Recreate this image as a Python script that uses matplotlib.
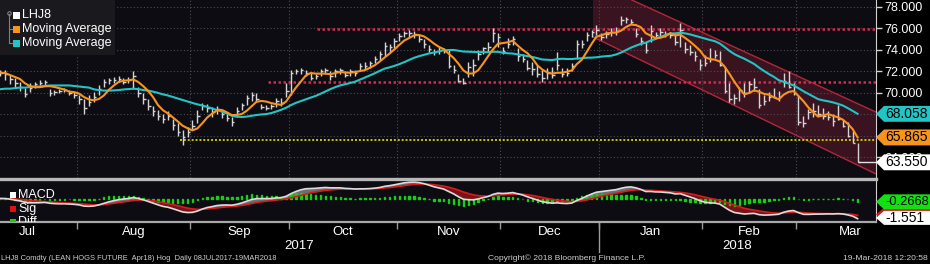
import numpy as np
import pandas as pd
import matplotlib
matplotlib.use("Agg")
import matplotlib.pyplot as plt
from matplotlib.patches import Polygon, Rectangle
from matplotlib.transforms import blended_transform_factory

plt.rcParams['font.family'] = ['Liberation Sans', 'DejaVu Sans']

# LHJ8 daily bars, 10 Jul 2017 .. 19 Mar 2018 (one row per month)
high = [72.1, 72.1, 71.7, 71.4, 71.0, 70.5, 70.9, 71.0, 71.2, 71.2, 70.4, 70.3, 70.4, 70.5, 70.3, 70.1,
        69.8, 69.4, 69.8, 70.1, 70.7, 71.3, 71.4, 71.5, 71.6, 71.4, 71.5, 72.0, 70.6, 70.0, 69.4, 68.8, 68.4, 68.0, 68.3, 67.6, 67.2, 66.6, 66.8,
        67.5, 68.4, 69.1, 69.0, 68.7, 68.8, 68.4, 68.1, 67.8, 68.7, 69.1, 69.8, 70.1, 70.0, 69.0, 68.9, 69.0, 69.5, 69.5, 70.9,
        72.1, 72.2, 72.3, 72.1, 71.9, 71.8, 72.2, 72.3, 72.0, 72.2, 72.3, 72.0, 72.2, 72.1, 72.8, 72.9, 73.0, 73.4, 73.9, 74.7, 74.6, 75.1,
        75.6, 75.8, 75.9, 75.8, 75.4, 75.0, 74.5, 74.1, 74.3, 74.2, 74.0, 72.6, 71.8, 71.4, 72.9, 73.2, 74.0, 74.3, 74.7, 76.0, 75.6,
        74.3, 75.1, 75.3, 74.2, 73.6, 73.1, 72.9, 72.6, 72.1, 72.3, 72.4, 73.8, 72.3, 72.3, 72.8, 74.9, 74.9, 75.7, 75.9, 76.3,
        75.6, 75.8, 76.0, 76.1, 77.2, 77.1, 76.9, 76.0, 75.2, 74.7, 76.3, 75.7, 76.0, 75.8, 75.7, 75.6, 76.5, 74.7, 74.5, 73.9, 73.2,
        73.5, 74.2, 74.0, 73.9, 72.4, 70.9, 69.9, 70.6, 70.9, 71.1, 71.4, 70.4, 69.8, 70.1, 70.5, 70.2, 71.9, 72.0, 70.9,
        69.8, 67.9, 68.5, 69.1, 68.9, 68.6, 68.3, 68.0, 68.9, 67.5, 67.3, 66.5, 65.35]
low = [71.6, 71.2, 70.8, 70.5, 70.2, 69.6, 70.1, 70.5, 70.7, 70.7, 69.7, 69.8, 70.0, 70.1, 69.8, 69.5,
       69.0, 68.0, 68.8, 69.2, 69.8, 70.6, 70.8, 70.9, 71.0, 70.8, 70.9, 70.4, 69.6, 69.0, 68.4, 67.9, 67.5, 67.2, 67.5, 66.6, 66.0, 65.2, 65.9,
       66.6, 67.2, 68.4, 68.2, 67.8, 68.0, 67.7, 67.4, 66.9, 67.8, 68.4, 68.9, 69.3, 69.2, 68.5, 68.4, 68.5, 68.7, 68.8, 69.6,
       69.8, 71.8, 71.8, 71.6, 71.2, 71.3, 71.6, 71.8, 71.2, 71.5, 71.8, 71.5, 71.6, 71.6, 72.0, 72.2, 72.3, 72.8, 73.1, 73.4, 73.7, 74.2,
       74.8, 75.2, 75.2, 75.1, 74.7, 74.2, 73.8, 73.5, 73.6, 73.7, 72.3, 71.9, 71.0, 70.8, 71.5, 71.6, 73.1, 73.6, 73.8, 74.7, 74.3,
       73.6, 74.2, 74.5, 73.0, 72.9, 72.1, 71.7, 71.5, 71.0, 71.3, 71.4, 72.1, 71.5, 71.6, 72.0, 73.2, 74.2, 74.8, 75.2, 75.4,
       74.9, 75.1, 75.3, 75.4, 76.3, 76.5, 76.4, 75.2, 74.5, 73.7, 74.7, 75.1, 75.3, 75.2, 75.1, 74.5, 74.3, 73.7, 73.5, 73.0, 72.1,
       72.5, 72.9, 73.3, 72.5, 70.0, 69.2, 69.0, 69.3, 69.6, 70.0, 70.2, 68.6, 68.9, 69.3, 69.5, 69.3, 70.6, 70.5, 69.8,
       67.0, 66.8, 67.6, 67.8, 67.9, 67.6, 67.5, 66.9, 67.5, 66.8, 65.9, 65.3, 63.55]
close = [71.9, 71.8, 71.3, 70.9, 70.6, 69.9, 70.5, 70.8, 70.9, 71.0, 70.0, 70.1, 70.2, 70.3, 70.0, 69.8,
         69.4, 68.6, 69.2, 69.6, 70.4, 71.0, 71.2, 71.2, 71.3, 71.0, 71.2, 71.6, 70.0, 69.4, 68.8, 68.3, 67.9, 67.6, 67.9, 67.0, 66.4, 65.9, 66.4,
         66.9, 67.9, 68.8, 68.6, 68.2, 68.5, 68.0, 67.7, 67.3, 68.3, 68.9, 69.5, 69.8, 69.4, 68.7, 68.6, 68.8, 69.3, 69.1, 70.2,
         71.9, 72.0, 72.1, 71.9, 71.4, 71.6, 72.0, 72.1, 71.6, 72.0, 72.1, 71.7, 72.0, 71.9, 72.5, 72.5, 72.8, 73.2, 73.6, 74.4, 74.3, 74.8,
         75.3, 75.6, 75.6, 75.5, 75.0, 74.6, 74.1, 73.8, 74.0, 73.9, 72.5, 72.1, 71.1, 70.9, 72.4, 72.6, 73.6, 74.2, 74.3, 75.6, 75.2,
         73.9, 74.6, 75.0, 73.4, 73.2, 72.3, 72.2, 71.8, 71.4, 71.9, 71.7, 72.6, 71.8, 71.9, 72.5, 74.6, 74.6, 75.4, 75.7, 75.9,
         75.2, 75.5, 75.7, 75.8, 76.8, 76.9, 76.6, 75.5, 74.8, 74.0, 75.8, 75.4, 75.7, 75.5, 75.4, 74.7, 75.9, 74.1, 73.8, 73.4, 72.6,
         72.8, 73.2, 73.5, 72.6, 70.2, 69.4, 69.5, 70.3, 70.0, 70.8, 70.6, 68.9, 69.3, 69.6, 69.6, 69.6, 71.1, 70.6, 70.0,
         67.3, 67.2, 68.2, 68.3, 68.0, 67.9, 67.8, 67.4, 67.6, 66.9, 66.0, 65.3, 63.55]

# cyan average over the first bars, before 20 closes exist
slow_head = [70.35, 70.4, 70.4, 70.45, 70.5, 70.5, 70.55, 70.6, 70.6, 70.65,
             70.7, 70.7, 70.7, 70.7, 70.7, 70.65, 70.6, 70.55, 70.5]

month_names = ['Jul', 'Aug', 'Sep', 'Oct', 'Nov', 'Dec', 'Jan', 'Feb', 'Mar']
month_mid = [5.5, 27, 48.5, 69.5, 91, 111.5, 132, 152, 172.5]
month_edges = [15.5, 38.5, 58.5, 80.5, 101.5, 121.5, 142.5, 161.5]
years = ['2017', '2018']
year_mid = [60.7, 149.6]

# drawn studies
resist_lvls = [75.95, 71.0]
resist_from = [64.3, 54.3]
support_lvl = 65.6
support_from = 36.5
chan_upper = [(128.2, 78.65), (177.7, 68.23)]
chan_lower = [(120.3, 75.21), (177.7, 62.47)]

# last values shown on the right
last_px, last_fast, last_slow = 63.550, 65.865, 68.058
last_diff, last_sig, last_macd = -0.2668, -1.284, -1.551

BG = '#0c0c12'
ORANGE = '#f7941d'
CYAN = '#22c4c4'

n = len(close)
idx = np.arange(n)
s = pd.Series(close)
fast = s.rolling(5, min_periods=1).mean().values
slow = s.rolling(20).mean().values
slow[:len(slow_head)] = slow_head
ema12 = s.ewm(span=12, adjust=False).mean()
ema26 = s.ewm(span=26, adjust=False).mean()
macd = (ema12 - ema26).values
sig = pd.Series(macd).ewm(span=9, adjust=False).mean().values
diff = macd - sig

XMIN, XMAX = -0.06, 177.74
W = 876.0

fig = plt.figure(figsize=(9.3, 2.64), dpi=100, facecolor='black')
ax = fig.add_axes([0, 86 / 264, W / 930, 178 / 264], facecolor=BG)
ax2 = fig.add_axes([0, 42 / 264, W / 930, 42 / 264], facecolor=BG)

# ---- main price panel
ax.set_xlim(XMIN, XMAX)
ax.set_ylim(62.09, 78.65)
for v in range(64, 79, 2):
    ax.axhline(v, color='#4c4c52', lw=0.8, ls=(0, (1, 2)), zorder=1)
for e in month_edges:
    ax.axvline(e, color='#4c4c52', lw=0.8, ls=(0, (1, 2)), zorder=1)

chan = [(chan_lower[0][0], 78.65), chan_upper[0], chan_upper[1], chan_lower[1], chan_lower[0]]
ax.add_patch(Polygon(chan, closed=True, facecolor='#3a1320', edgecolor='none', zorder=0.5))
ax.plot(*zip(*chan_upper), color='#b3263a', lw=1, zorder=2)
ax.plot(*zip(*chan_lower), color='#b3263a', lw=1, zorder=2)

for lv, x0 in zip(resist_lvls, resist_from):
    ax.hlines(lv, x0, XMAX, color='#d4284c', lw=1.8, linestyles=(0, (1, 1)), zorder=2)
ax.hlines(support_lvl, support_from, XMAX, color='#c8c800', lw=1.4, linestyles=(0, (1, 1)), zorder=2)

ax.vlines(idx, low, high, color='#d4d4d4', lw=1, zorder=3)
ax.hlines(close, idx, idx + 0.5, color='#d4d4d4', lw=1, zorder=3)
ax.hlines(close[-1], idx[-1], XMAX, color='#e0e0e0', lw=1, zorder=3)
ax.plot(idx, slow, color=CYAN, lw=1.5, zorder=4)
ax.plot(idx, fast, color=ORANGE, lw=1.5, zorder=4)

ax.yaxis.tick_right()
yt = list(range(64, 79, 2))
ax.set_yticks(yt)
# 66 and 68 sit under the value tags, as on the terminal
ax.set_yticklabels(['' if v in (66, 68) else '%.3f' % v for v in yt])
ax.tick_params(axis='y', colors='#d0d0d0', labelcolor='white', labelsize=9, length=4, width=1, pad=2)
ax.set_xticks([])
for sp in ['top', 'left', 'bottom']:
    ax.spines[sp].set_visible(False)
ax.spines['right'].set_color('#d0d0d0')


def tag(axis, value, text, face, half, fs=10):
    tr = axis.get_yaxis_transform()
    r = 930 / W
    pts = [(1.0, value), (1 + 8 / W, value + half), (r, value + half), (r, value - half), (1 + 8 / W, value - half)]
    axis.add_patch(Polygon(pts, closed=True, transform=tr, facecolor=face, edgecolor='none',
                           clip_on=False, zorder=10))
    if text:
        axis.text(1 + 9 / W, value, text, transform=tr, ha='left', va='center', fontsize=fs,
                  color='black', clip_on=False, zorder=11)


tag(ax, last_slow, '%.3f' % last_slow, CYAN, 0.74)
tag(ax, last_fast, '%.3f' % last_fast, ORANGE, 0.74)
tag(ax, last_px, '%.3f' % last_px, 'white', 0.74)

# legend of the price panel
def px(xp, yp, h=178.0):
    return xp / W, 1 - yp / h


ax.add_patch(Rectangle(px(0, 55), 115 / W, 55 / 178, transform=ax.transAxes,
                       facecolor='#19191e', edgecolor='none', zorder=8))
ax.plot([9 / W, 9 / W], [1 - 14 / 178, 1 - 43 / 178], transform=ax.transAxes, color='#808080', lw=0.8, zorder=9)
for yy in (29, 43):
    ax.plot([9 / W, 12 / W], [1 - yy / 178] * 2, transform=ax.transAxes, color='#808080', lw=0.8, zorder=9)
ax.plot([9 / W], [1 - 13 / 178], 'o', ms=2.5, mfc='none', mec='#909090', mew=0.7, transform=ax.transAxes, zorder=9)
for yy, col, lab in [(15, 'white', 'LHJ8'), (29, ORANGE, 'Moving Average'), (43, CYAN, 'Moving Average')]:
    ax.add_patch(Rectangle(px(13, yy + 3.5), 7 / W, 7 / 178, transform=ax.transAxes,
                           facecolor=col, edgecolor='none', zorder=9))
    ax.text(22 / W, 1 - yy / 178, lab, transform=ax.transAxes, color='white', fontsize=9,
            va='center', ha='left', zorder=9)

# ---- MACD panel
ax2.set_xlim(XMIN, XMAX)
ax2.set_ylim(-1.88, 1.48)
ax2.fill_between(idx, macd, sig, where=macd >= sig, interpolate=True, color='#6e6e72', lw=0, zorder=1)
ax2.fill_between(idx, macd, sig, where=macd < sig, interpolate=True, color='#7c1218', lw=0, zorder=1)
ax2.bar(idx, diff, width=0.3, color='#12d012', edgecolor='#12d012', lw=1.0, zorder=2)
ax2.plot(idx, sig, color='#d41c1c', lw=1.2, zorder=3)
ax2.plot(idx, macd, color='#dcdcdc', lw=1.2, zorder=3)

tag(ax2, last_sig, '', '#d01818', 0.56)
tag(ax2, last_diff, '%.4f' % last_diff, '#12e012', 0.6, fs=9.3)
tag(ax2, last_macd, '%.3f' % last_macd, 'white', 0.56)

for yy, col, lab in [(15, 'white', 'MACD'), (29, '#e01010', 'Sig'), (42, '#12d012', 'Diff')]:
    ax2.add_patch(Rectangle((10 / W, 1 - (yy + 3) / 42), 6 / W, 6 / 42, transform=ax2.transAxes,
                            facecolor=col, edgecolor='none', zorder=9))
    ax2.text(18 / W, 1 - yy / 42, lab, transform=ax2.transAxes, color='white', fontsize=9,
             va='center', ha='left', zorder=9, clip_on=True)

ax2.set_yticks([])
ax2.set_xticks(month_edges)
ax2.set_xticklabels([])
ax2.set_xticks(month_mid, minor=True)
ax2.set_xticklabels(month_names, minor=True)
ax2.tick_params(axis='x', which='major', colors='#9a9a9a', length=5, width=1, direction='out')
ax2.tick_params(axis='x', which='minor', length=0, pad=3, labelsize=9.5, labelcolor='white')
for sp in ['top', 'left']:
    ax2.spines[sp].set_visible(False)
ax2.spines['right'].set_color('#d0d0d0')
ax2.spines['bottom'].set_color('#a8a8a8')
ax2.spines['bottom'].set_linewidth(1.6)

btr = blended_transform_factory(ax2.transData, ax2.transAxes)
for name, xm in zip(years, year_mid):
    ax2.text(xm, 1 - 66 / 42, name, transform=btr, color='white', fontsize=9.5,
             ha='center', va='center', clip_on=False)
ax2.plot([month_edges[5]] * 2, [0, 1 - 72 / 42], transform=btr, color='#9a9a9a', lw=1, clip_on=False)

# separator between the panels
fig.add_artist(plt.Line2D([0, W / 930], [85 / 264] * 2, color='#b8b8b8', lw=2.4))

# footer
fig.text(0.001, 6 / 264, 'LHJ8 Comdty (LEAN HOGS FUTURE  Apr18) Hog  Daily 08JUL2017-19MAR2018',
         color='#cfcfcf', fontsize=5.4, va='center', ha='left')
fig.text(488 / 930, 6 / 264, 'Copyright\u00a9 2018 Bloomberg Finance L.P.',
         color='#cfcfcf', fontsize=6.1, va='center', ha='left')
fig.text(928 / 930, 6 / 264, '19-Mar-2018 12:20:58',
         color='#cfcfcf', fontsize=6.1, va='center', ha='right')

fig.savefig('out.png', dpi=100, facecolor='black')
